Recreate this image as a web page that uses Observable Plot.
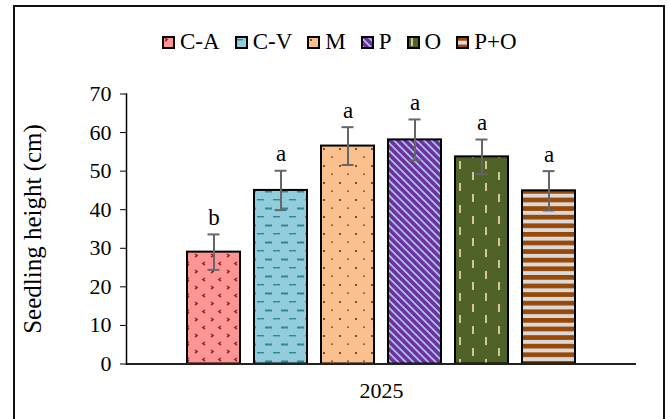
<!DOCTYPE html>
<html>
<head>
<meta charset="utf-8">
<script src="https://cdn.jsdelivr.net/npm/d3@7"></script>
<script src="https://cdn.jsdelivr.net/npm/@observablehq/plot@0.6"></script>
<style>
  body { margin: 0; background: #fff; }
  #wrap { position: relative; width: 669px; height: 419px; overflow: hidden; background: #fff;
          font-family: "Liberation Serif", "Times New Roman", serif; color: #000; }
  #border { position: absolute; left: 13px; top: 5px; width: 652px; height: 440px;
            border: 2px solid #111; box-sizing: border-box; pointer-events: none; }
  #legend { position: relative; height: 60px; }
  #legend .row { position: absolute; left: 162px; top: 27px; display: flex; align-items: center; gap: 15px;
                 font-size: 23px; line-height: 30px; }
  #legend .item { display: flex; align-items: center; gap: 5px; }
  #legend svg { display: block; }
  #chart svg { display: block; }
</style>
</head>
<body>
<svg width="0" height="0" style="position:absolute">
  <defs>
    <pattern id="pCA" patternUnits="userSpaceOnUse" width="16" height="16">
      <rect width="16" height="16" fill="#FF9494"/>
      <path d="M3,2 l2.2,1.6 l-2.2,1.6" fill="none" stroke="#7B1F1F" stroke-width="1.3"/>
      <path d="M13,10 l-2.2,1.6 l2.2,1.6" fill="none" stroke="#7B1F1F" stroke-width="1.3"/>
    </pattern>
    <pattern id="pCV" patternUnits="userSpaceOnUse" width="16" height="17">
      <rect width="16" height="17" fill="#92CDDC"/>
      <rect x="1" y="3" width="7" height="1.4" fill="#31859C"/>
      <rect x="9" y="11.5" width="7" height="2" fill="#31859C"/>
    </pattern>
    <pattern id="pM" patternUnits="userSpaceOnUse" width="16" height="17">
      <rect width="16" height="17" fill="#FAC090"/>
      <rect x="3" y="3" width="2" height="2" fill="#984807"/>
      <rect x="11" y="11.5" width="2" height="1.3" fill="#984807"/>
    </pattern>
    <pattern id="pP" patternUnits="userSpaceOnUse" width="5.3" height="5.3" patternTransform="rotate(45)">
      <rect width="5.3" height="5.3" fill="#7030A0"/>
      <rect x="0" y="0" width="5.3" height="1.7" fill="#A8C8EE"/>
    </pattern>
    <pattern id="pO" patternUnits="userSpaceOnUse" width="26" height="22">
      <rect width="26" height="22" fill="#4F6228"/>
      <rect x="4" y="2" width="2" height="8" fill="#D3C69B"/>
      <rect x="17" y="13" width="2" height="8" fill="#D3C69B"/>
    </pattern>
    <pattern id="pPO" patternUnits="userSpaceOnUse" width="10" height="8.6">
      <rect width="10" height="8.6" fill="#D9D9D9"/>
      <rect x="0" y="0" width="10" height="4.7" fill="#984807"/>
    </pattern>
  </defs>
</svg>
<div id="wrap">
  <div id="legend"><div class="row"></div></div>
  <div id="chart"></div>
  <div id="border"></div>
</div>
<script>
// ---- data ----
const year = "2025";
const treatments = ["C-A", "C-V", "M", "P", "O", "P+O"];
const means = [29.0, 45.0, 56.5, 58.1, 53.7, 44.9];
const errors = [4.6, 5.1, 4.9, 5.3, 4.5, 5.1];
const letters = ["b", "a", "a", "a", "a", "a"];
const yTicks = [0, 10, 20, 30, 40, 50, 60, 70];
const yLabel = "Seedling height (cm)";
// ---- styles ----
const patternIds = ["pCA", "pCV", "pM", "pP", "pO", "pPO"];
const fills = patternIds.map(id => `url(#${id})`);

const data = treatments.map((t, i) => ({
  year, treatment: t, mean: means[i], err: errors[i], letter: letters[i]
}));

const font = '"Liberation Serif", "Times New Roman", serif';

const chart = Plot.plot({
  width: 669,
  height: 359,
  marginTop: 33.5,
  marginBottom: 55.5,
  marginLeft: 126,
  marginRight: 33,
  style: { fontFamily: font, fontSize: "22px", color: "#000", background: "transparent", overflow: "visible" },
  fx: { domain: [year], padding: 0, label: null },
  x: { domain: treatments, paddingInner: 0.214, paddingOuter: 0.89, axis: null },
  y: { domain: [0, 70], label: null },
  color: { type: "ordinal", domain: treatments, range: fills },
  marks: [
    Plot.barY(data, { fx: "year", x: "treatment", y: "mean", fill: "treatment", stroke: "#000", strokeWidth: 2 }),
    Plot.ruleX(data, { fx: "year", x: "treatment", y1: d => d.mean - d.err, y2: d => d.mean + d.err, stroke: "#666", strokeWidth: 2 }),
    Plot.tickY(data, { fx: "year", x: "treatment", y: d => d.mean - d.err, stroke: "#666", strokeWidth: 2, insetLeft: 20.5, insetRight: 20.5 }),
    Plot.tickY(data, { fx: "year", x: "treatment", y: d => d.mean + d.err, stroke: "#666", strokeWidth: 2, insetLeft: 20.5, insetRight: 20.5 }),
    Plot.text(data, { fx: "year", x: "treatment", y: d => d.mean + d.err, text: "letter", dy: -17, fontSize: 23, fill: "#000" }),
    Plot.ruleY([0], { stroke: "#222", strokeWidth: 1.8 }),
    Plot.frame({ anchor: "left", stroke: "#000", strokeWidth: 1.5 }),
    Plot.axisY({ ticks: yTicks, tickSize: 6, tickPadding: 9, fontSize: 22, label: null }),
    Plot.axisY({ ticks: [], tickSize: 0, fontSize: 25, label: yLabel, labelAnchor: "center", labelArrow: "none", labelOffset: 103 }),
    Plot.axisFx({ anchor: "bottom", tickSize: 0, tickPadding: 18, label: null, fontSize: 22 })
  ]
});
document.getElementById("chart").appendChild(chart);

// ---- legend (HTML, swatches use the same patterns) ----
const row = document.querySelector("#legend .row");
treatments.forEach((t, i) => {
  const item = document.createElement("div");
  item.className = "item";
  item.innerHTML = `<svg width="13" height="13"><rect x="1" y="1" width="11" height="11" fill="${fills[i]}" stroke="#000" stroke-width="2"/></svg><span>${t}</span>`;
  row.appendChild(item);
});
</script>
</body>
</html>
